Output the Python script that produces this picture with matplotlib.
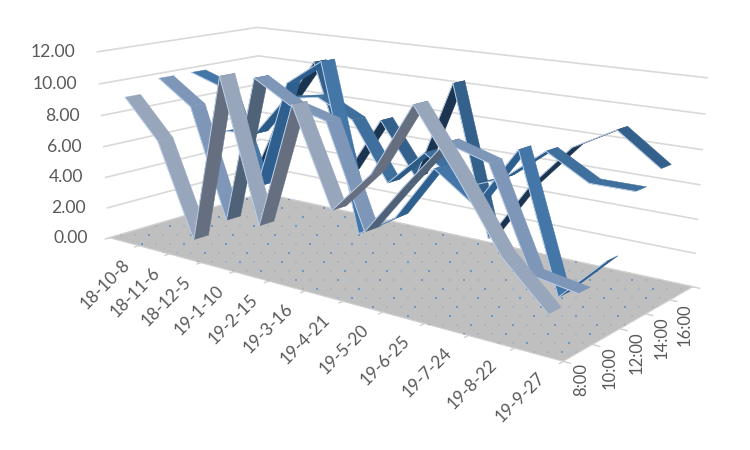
import numpy as np
import matplotlib
matplotlib.use("Agg")
import matplotlib.pyplot as plt
from matplotlib.patches import Polygon

plt.rcParams['font.family'] = ['Lato', 'DejaVu Sans']

dates = ['18-10-8', '18-11-6', '18-12-5', '19-1-10', '19-2-15', '19-3-16',
         '19-4-21', '19-5-20', '19-6-25', '19-7-24', '19-8-22', '19-9-27']
times = ['8:00', '10:00', '12:00', '14:00', '16:00']
value_ticks = [0, 2, 4, 6, 8, 10, 12]

s_0800 = [9.2, 6.8, 1.0, 11.4, 2.9, 10.4, 4.8, 7.3, 11.4, 8.0, 4.3, 1.9]
s_1000 = [10.0, 8.5, 1.6, 10.9, 9.6, 9.0, 2.9, 6.0, 8.9, 8.2, 2.6, 2.2]
s_1200 = [10.0, 9.3, 3.2, 10.2, 11.8, 1.6, 3.1, 6.5, 4.8, 8.4, 0.6, 3.2]
s_1400 = [5.6, 5.8, 8.5, 8.9, 7.8, 4.2, 6.5, 4.8, 5.8, 7.8, 6.4, 6.4]
s_1600 = [2.3, 7.2, 10.5, 3.5, 7.3, 4.0, 10.3, 1.0, 4.7, 7.5, 8.9, 7.1]
series = [s_0800, s_1000, s_1200, s_1400, s_1600]

# colours for falling / rising parts of each ribbon
fall_cols = ['#98a6bb', '#7e96b8', '#4476a8', '#3f6f9c', '#34608c']
rise_cols = ['#666f80', '#4f6278', '#2f5f8e', '#2a5a85', '#1b3550']

# camera: fitted from where the box corners sit in the picture
world = np.array([[0, 0, 0], [0, 5, 0], [12, 5, 0], [12, 0, 0],
                  [0, 0, 12], [0, 5, 12], [12, 5, 12]], dtype=float)
pix = np.array([[110, 237], [262, 194], [693, 286], [563, 362],
                [97, 52], [258, 27], [707, 78]], dtype=float)
rows = []
for (X, Y, Z), (u, v) in zip(world, pix):
    rows.append([X, Y, Z, 1, 0, 0, 0, 0, -u * X, -u * Y, -u * Z, -u])
    rows.append([0, 0, 0, 0, X, Y, Z, 1, -v * X, -v * Y, -v * Z, -v])
cam = np.linalg.svd(np.array(rows))[2][-1].reshape(3, 4)


def proj(x, y, z):
    p = cam @ np.array([x, y, z, 1.0])
    return p[0] / p[2], p[1] / p[2]


fig = plt.figure(figsize=(7.5, 4.5), dpi=100)
ax = fig.add_axes([0, 0, 1, 1])
ax.set_xlim(0, 750)
ax.set_ylim(450, 0)
ax.axis('off')

# walls
for v in value_ticks:
    pts = [proj(0, 0, v), proj(0, 5, v), proj(12, 5, v)]
    ax.plot(*zip(*pts), color='#d9d9d9', lw=1.2, zorder=1)

# floor with its dotted fill, the dots sit on a screen grid
floor = [proj(0, 0, 0), proj(0, 5, 0), proj(12, 5, 0), proj(12, 0, 0)]
floor_patch = Polygon(floor, fc='#bfbfbf', ec='#d0d0d0', lw=0.8, zorder=2)
ax.add_patch(floor_patch)
gx, gy, gc = [], [], []
for n, px in enumerate(np.arange(100, 700, 7)):
    for m, py in enumerate(np.arange(190 + (n % 2) * 9, 365, 18)):
        gx.append(px)
        gy.append(py)
        gc.append('#5a8cc0' if (m + n) % 3 == 0 else '#9db2c8')
dots = ax.scatter(gx, gy, s=2.0, c=gc, lw=0, zorder=3)
dots.set_clip_path(floor_patch)

# ticks on the floor edge
for i in range(13):
    a, b = proj(i, 0, 0), proj(i, -0.12, 0)
    ax.plot([a[0], b[0]], [a[1], b[1]], color='#d0d0d0', lw=1, zorder=2)
for j in range(6):
    a, b = proj(12, j, 0), proj(12.15, j, 0)
    ax.plot([a[0], b[0]], [a[1], b[1]], color='#d0d0d0', lw=1, zorder=2)

# ribbons, back to front
half = 0.22
z = 10
for k in range(len(series) - 1, -1, -1):
    vals = series[k]
    for i in range(len(vals) - 1):
        x0, x1 = i + 0.5, i + 1.5
        quad = [proj(x0, k + 0.5 - half, vals[i]), proj(x0, k + 0.5 + half, vals[i]),
                proj(x1, k + 0.5 + half, vals[i + 1]), proj(x1, k + 0.5 - half, vals[i + 1])]
        col = rise_cols[k] if vals[i + 1] > vals[i] + 0.6 else fall_cols[k]
        ax.add_patch(Polygon(quad, fc=col, ec=col, lw=0.3, zorder=z))
        ax.plot([quad[0][0], quad[3][0]], [quad[0][1], quad[3][1]],
                color='#bcd0ea', lw=0.7, zorder=z + 0.1)
        z += 1

# labels
for v in value_ticks:
    px, py = proj(0, 0, v)
    ax.text(px - 22, py, '%.2f' % v, ha='right', va='center', fontsize=12.6, color='#595959')
for i, d in enumerate(dates):
    px, py = proj(i + 0.5, 0, 0)
    ax.text(px - 2, py + 15, d, rotation=45, rotation_mode='anchor', ha='right', va='top',
            fontsize=12.3, color='#595959')
for j, t in enumerate(times):
    px, py = proj(12, j + 0.5, 0)
    ax.text(px + 3.5, py + 10, t, rotation=90, ha='center', va='top',
            fontsize=12, color='#595959')

fig.savefig('out.png', dpi=100)
